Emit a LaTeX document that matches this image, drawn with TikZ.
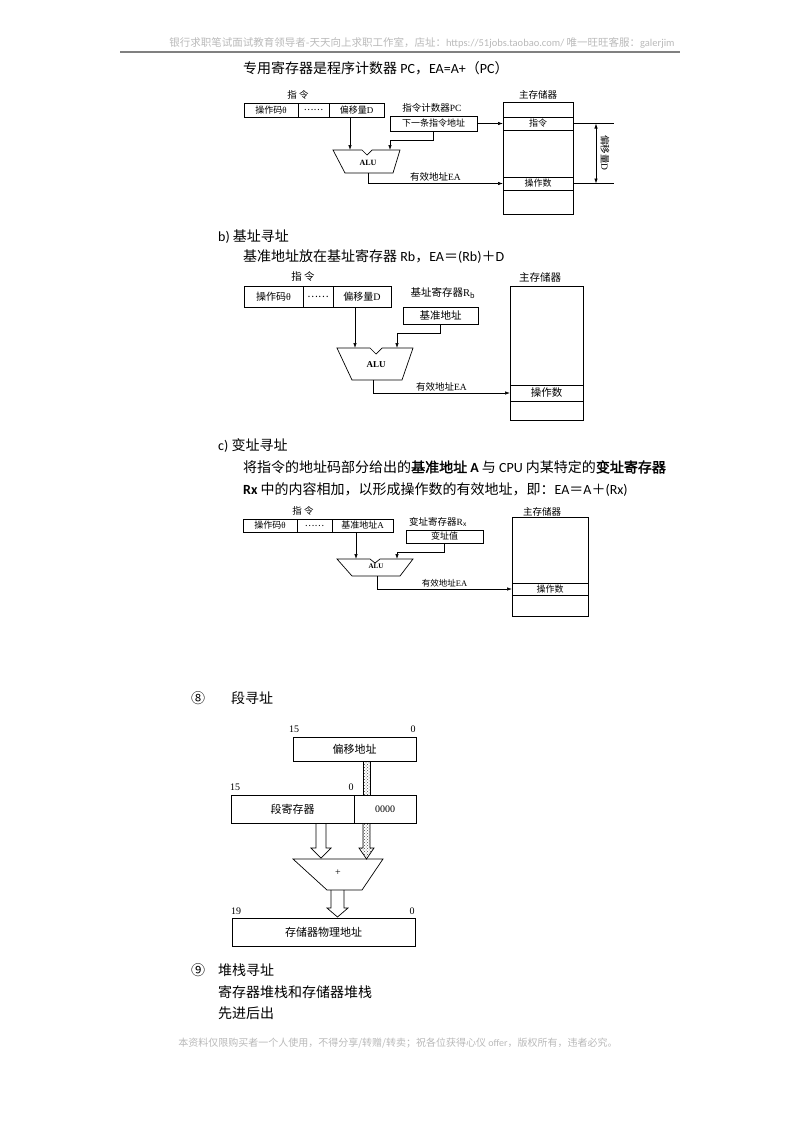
\documentclass[tikz,border=0pt]{standalone}
\usepackage{fontspec}
\setmainfont{Noto Sans CJK SC}
\newfontfamily\lat{Carlito}
\newfontfamily\ser{Liberation Serif}
\newfontfamily\cjkb{Noto Sans CJK SC}[FakeBold=2]
\usetikzlibrary{arrows.meta}
\usetikzlibrary{positioning}
\usetikzlibrary{patterns}

\begin{document}
\begin{tikzpicture}[x=1pt, y=-1pt,
  body/.style={anchor=west, inner sep=0pt, font=\fontsize{14}{16}\selectfont},
  faint/.style={inner sep=0pt, text=gray!55, font=\fontsize{10.5}{12}\selectfont},
  cell/.style={draw, line width=0.7pt, inner sep=0pt, outer sep=0pt, font=\fontsize{9}{10}\selectfont},
  tag/.style={inner sep=0pt, font=\fontsize{9.5}{11}\selectfont},
  num/.style={inner sep=0pt, font=\ser\fontsize{10}{11}\selectfont},
  alu/.style={inner sep=0pt, font=\ser\bfseries\fontsize{8}{9}\selectfont},
  wire/.style={line width=0.7pt},
  arr/.style={wire, -{Latex[length=5pt, width=3.5pt]}}]

  \useasboundingbox (0,0) rectangle (800,1132);

  % Page header and footer
  \node[faint] (head) at (422,43) {银行求职笔试面试教育领导者-天天向上求职工作室，店址：{\lat https://51jobs.taobao.com/} 唯一旺旺客服：{\lat galerjim}};
  \draw[gray, line width=1.3pt] (120,52) -- (680,52);
  \node[faint, font=\fontsize{10}{12}\selectfont] (foot) at (398,1043) {本资料仅限购买者一个人使用，不得分享/转赠/转卖；祝各位获得心仪 {\lat offer}，版权所有，违者必究。};

  % Body text
  \node[body] (s1) at (243,68) {专用寄存器是程序计数器 {\lat PC}，{\lat EA=A+}（{\lat PC}）};
  \node[body] (b0) at (218,237) {{\lat b)} 基址寻址};
  \node[body] (b1) at (243,257) {基准地址放在基址寄存器 {\lat Rb}，{\lat EA}＝{\lat (Rb)}＋{\lat D}};
  \node[body] (c0) at (218,446) {{\lat c)} 变址寻址};
  \node[body] (c1) at (243,467) {将指令的地址码部分给出的{\cjkb 基准地址} {\lat\bfseries A} 与 {\lat CPU} 内某特定的{\cjkb 变址寄存器}};
  \node[body] (c2) at (243,490) {{\lat\bfseries Rx} 中的内容相加，以形成操作数的有效地址，即：{\lat EA}＝{\lat A}＋{\lat (Rx)}};
  \node[body] (s8) at (191,698) {⑧\hspace{26pt}段寻址};
  \node[body] (s9) at (191,970) {⑨\hspace{13pt}堆栈寻址};
  \node[body] (s9a) at (218,992) {寄存器堆栈和存储器堆栈};
  \node[body] (s9b) at (218,1013) {先进后出};

  % Relative addressing: instruction, PC, ALU, memory
  \node[tag] (t1) at (298,95) {指\ 令};
  \node[cell, minimum width=54pt, minimum height=14pt] (op1) at (271,110) {操作码{\ser θ}};
  \node[cell, minimum width=31pt, minimum height=14pt, right=0pt of op1] (dt1) {……};
  \node[cell, minimum width=55pt, minimum height=14pt, right=0pt of dt1] (dp1) {偏移量{\ser D}};
  \node[tag] (pcl1) at (432,108) {指令计数器{\ser PC}};
  \node[cell, minimum width=87pt, minimum height=15pt] (pc1) at (433.5,123.5) {下一条指令地址};
  \draw[wire] (333,150) -- (362,150) -- (367,155) -- (372,150) -- (400,150) -- (393,173) -- (345,173) -- cycle;
  \node[alu] (alu1) at (368,163) {ALU};
  \coordinate (in1a) at (350,150);
  \coordinate (in1b) at (390,150);
  \coordinate (out1) at (368,173);
  \node[tag] (ml1) at (538,95) {主存储器};
  \node[cell, minimum width=70pt, minimum height=112pt] (mem1) at (538,158) {};
  \node[cell, minimum width=70pt, minimum height=13pt] (ins1) at (538,123.5) {指令};
  \node[cell, minimum width=70pt, minimum height=13pt] (opd1) at (538,183.5) {操作数};
  \draw[arr] (in1a |- dp1.south) -- (in1a);
  \draw[arr] (pc1.south) -- ++(0,9) -| (in1b);
  \draw[arr] (pc1.east) -- (ins1.west);
  \draw[arr] (out1) |- (opd1.west) node[tag, pos=0.75, above=1.5pt] (ea1) {有效地址{\ser EA}};
  \draw[wire] (ins1.east) -- ++(41,0) coordinate (d1a);
  \draw[wire] (opd1.east) -- ++(41,0) coordinate (d1b);
  \draw[wire, {Latex[length=5pt, width=3.5pt]}-{Latex[length=5pt, width=3.5pt]}] ([xshift=-18pt]d1a) -- ([xshift=-18pt]d1b);
  \node[tag, rotate=-90] (dl1) at (605,153) {偏移量{\ser D}};

  % Base addressing
  \node[tag, font=\fontsize{10.5}{12}\selectfont] (t2) at (303,277) {指\ 令};
  \node[cell, font=\fontsize{10}{11}\selectfont, minimum width=59pt, minimum height=21pt] (op2) at (273.5,296.5) {操作码{\ser θ}};
  \node[cell, font=\fontsize{10}{11}\selectfont, minimum width=30pt, minimum height=21pt, right=0pt of op2] (dt2) {……};
  \node[cell, font=\fontsize{10}{11}\selectfont, minimum width=58pt, minimum height=21pt, right=0pt of dt2] (dp2) {偏移量{\ser D}};
  \node[tag, font=\fontsize{10.5}{12}\selectfont] (rbl) at (443,293) {基址寄存器{\ser R}$_{\mathrm{b}}$};
  \node[cell, font=\fontsize{10.5}{12}\selectfont, minimum width=75pt, minimum height=17pt] (rb) at (440.5,315.5) {基准地址};
  \draw[wire] (337,348) -- (370,348) -- (376,354) -- (382,348) -- (413,348) -- (402,380) -- (352,380) -- cycle;
  \node[alu, font=\ser\bfseries\fontsize{9}{10}\selectfont] (alu2) at (376,365) {ALU};
  \coordinate (in2a) at (355,348);
  \coordinate (in2b) at (397,348);
  \coordinate (out2) at (373,380);
  \node[tag, font=\fontsize{10.5}{12}\selectfont] (ml2) at (540,277) {主存储器};
  \node[cell, minimum width=73pt, minimum height=134pt] (mem2) at (546.5,353) {};
  \node[cell, font=\fontsize{10.5}{12}\selectfont, minimum width=73pt, minimum height=16pt] (opd2) at (546.5,393) {操作数};
  \draw[arr] (in2a |- dp2.south) -- (in2a);
  \draw[arr] (rb.south) -- ++(0,9) -| (in2b);
  \draw[arr] (out2) |- (opd2.west) node[tag, pos=0.75, above=1.5pt] (ea2) {有效地址{\ser EA}};

  % Index addressing
  \node[tag] (t3) at (303,511) {指\ 令};
  \node[cell, minimum width=54pt, minimum height=13pt] (op3) at (270,525.5) {操作码{\ser θ}};
  \node[cell, minimum width=35pt, minimum height=13pt, right=0pt of op3] (dt3) {……};
  \node[cell, minimum width=61pt, minimum height=13pt, right=0pt of dt3] (ba3) {基准地址{\ser A}};
  \node[tag] (rxl) at (438,522) {变址寄存器{\ser R}$_{\mathrm{x}}$};
  \node[cell, minimum width=77pt, minimum height=13pt] (rx) at (444.5,536.5) {变址值};
  \draw[wire] (337,559) -- (370,559) -- (375,563) -- (380,559) -- (413,559) -- (400,576) -- (352,576) -- cycle;
  \node[alu, font=\ser\bfseries\fontsize{7}{8}\selectfont] (alu3) at (376,566.5) {ALU};
  \coordinate (in3a) at (356,559);
  \coordinate (in3b) at (397,559);
  \coordinate (out3) at (377,576);
  \node[tag] (ml3) at (542,512) {主存储器};
  \node[cell, minimum width=76pt, minimum height=99pt] (mem3) at (550,566.5) {};
  \node[cell, minimum width=76pt, minimum height=12pt] (opd3) at (550,589) {操作数};
  \draw[arr] (in3a |- ba3.south) -- (in3a);
  \draw[arr] (rx.south) -- ++(0,9) -| (in3b);
  \draw[arr] (out3) |- (opd3.west) node[tag, font=\fontsize{8.5}{10}\selectfont, pos=0.75, above=1.5pt] (ea3) {有效地址{\ser EA}};

  % Segment addressing
  \node[num] (n1) at (294,729) {15};
  \node[num] (n2) at (413,729) {0};
  \node[cell, font=\fontsize{11}{12}\selectfont, minimum width=123pt, minimum height=24pt] (off) at (354.5,749) {偏移地址};
  \node[num] (n3) at (235,787) {15};
  \node[num] (n4) at (351,787) {0};
  \node[cell, font=\fontsize{11}{12}\selectfont, minimum width=123pt, minimum height=28pt] (seg) at (292.5,809) {段寄存器};
  \node[cell, font=\ser\fontsize{10}{11}\selectfont, minimum width=62pt, minimum height=28pt, right=0pt of seg] (zero) {0000};
  \draw[wire] (293,859) -- (383,859) -- (362,890) -- (327,890) -- cycle;
  \node[num] (add) at (338,873) {+};
  \node[num] (n5) at (236,911) {19};
  \node[num] (n6) at (412,911) {0};
  \node[cell, font=\fontsize{11}{12}\selectfont, minimum width=183pt, minimum height=28pt] (pa) at (323.5,932) {存储器物理地址};

  % Wide arrows between the registers
  \filldraw[wire, pattern=crosshatch dots, pattern color=black!70] (363,761) rectangle (370,795);
  \filldraw[wire, pattern=crosshatch dots, pattern color=black!70] (363,823) -- (363,848) -- (359,848) -- (366.5,859) -- (374,848) -- (370,848) -- (370,823);
  \draw[wire] (316,823) -- (316,848) -- (311,848) -- (321,858) -- (331,848) -- (326,848) -- (326,823);
  \draw[wire] (331,890) -- (331,908) -- (327,908) -- (337.5,917) -- (348,908) -- (344,908) -- (344,890);
\end{tikzpicture}
\end{document}
